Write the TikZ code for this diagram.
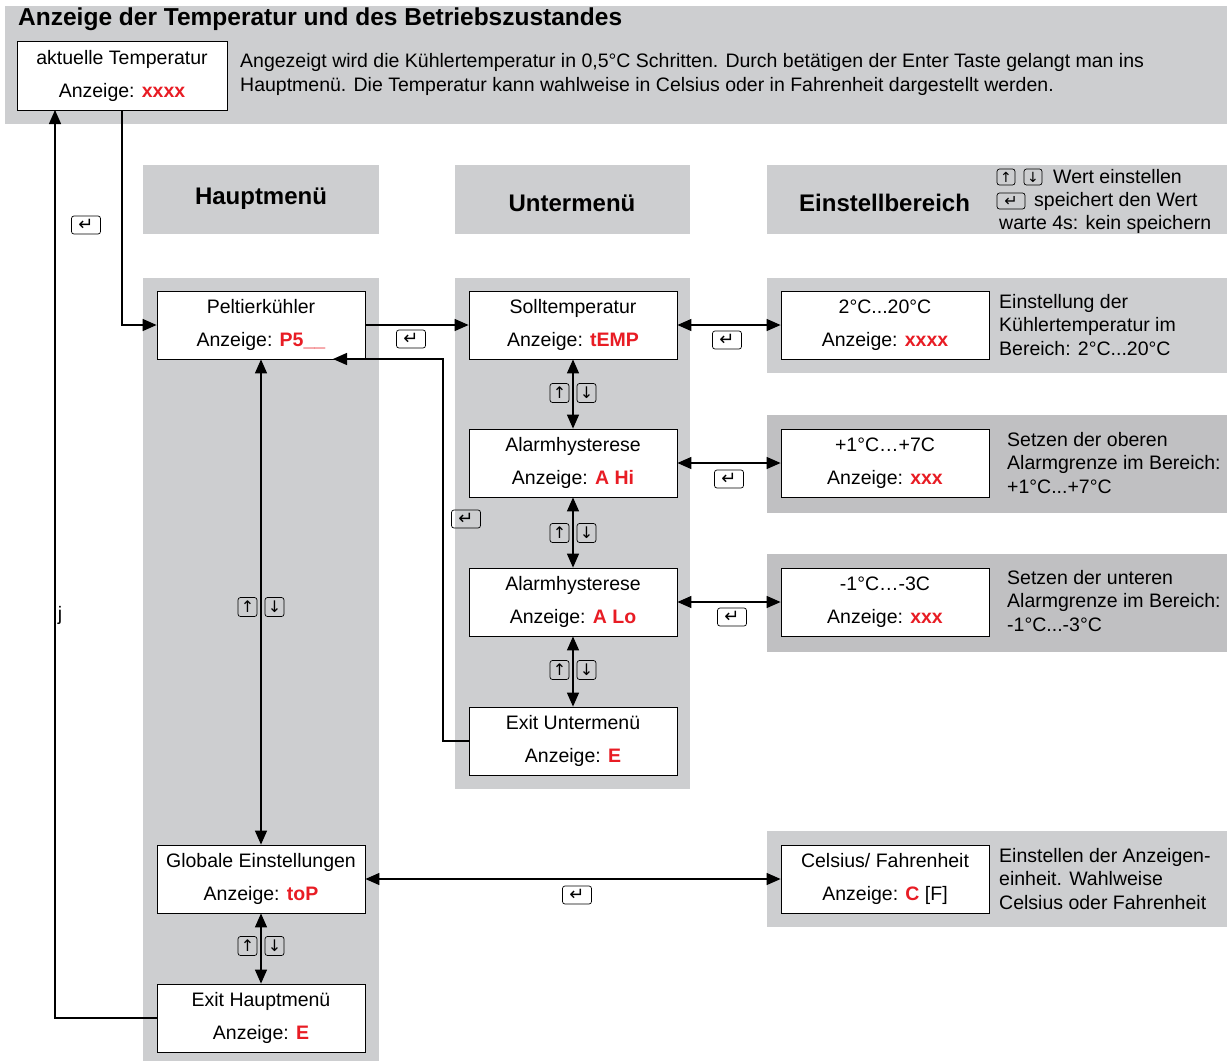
\documentclass[tikz,border=0pt]{standalone}
\usepackage{fontspec}
\setmainfont{Liberation Sans}
\newfontfamily\symfont{DejaVu Sans}
\usetikzlibrary{arrows.meta}
\definecolor{bgA}{RGB}{205,206,208}
\definecolor{bgB}{RGB}{192,192,194}
\definecolor{vred}{RGB}{232,28,36}
\newcommand\rv[1]{\textcolor{vred}{\textbf{#1}}}
\begin{document}
\begin{tikzpicture}[x=1pt,y=-1pt,
 box/.style={draw, fill=white, line width=0.8pt, minimum width=208pt, minimum height=68pt, inner sep=0pt, align=center, font=\fontsize{19.5}{33}\selectfont},
 ukey/.style={draw, rounded corners=2.5pt, line width=0.7pt, minimum width=19pt, minimum height=19pt, inner sep=0pt, font=\symfont\fontsize{16}{16}\selectfont},
 ekey/.style={ukey, minimum width=29pt, minimum height=18pt, font=\symfont\fontsize{18}{18}\selectfont},
 skey/.style={ukey, minimum width=18pt, minimum height=16pt, font=\symfont\fontsize{14}{14}\selectfont},
 sekey/.style={skey, minimum width=28pt, font=\symfont\fontsize{16}{16}\selectfont},
 txt/.style={anchor=west, inner sep=0pt, align=left, font=\fontsize{19.5}{23.5}\selectfont},
 hdr/.style={inner sep=0pt, font=\bfseries\fontsize{24}{24}\selectfont},
 arr/.style={line width=1.3pt, -{Triangle[length=14pt,width=12pt]}},
 darr/.style={line width=1.3pt, {Triangle[length=14pt,width=12pt]}-{Triangle[length=14pt,width=12pt]}},
]
\useasboundingbox (0,0) rectangle (1227,1061);
\fill[white] (0,0) rectangle (1227,1061);
% backgrounds
\fill[bgA] (5,6) rectangle (1227,124);
\fill[bgA] (143,165) rectangle (379,234);
\fill[bgA] (455,165) rectangle (690,234);
\fill[bgA] (767,165) rectangle (1227,234);
\fill[bgA] (143,278) rectangle (379,1061);
\fill[bgA] (455,278) rectangle (690,789);
\fill[bgA] (767,278) rectangle (1227,373);
\fill[bgB] (767,415) rectangle (1227,513);
\fill[bgB] (767,554) rectangle (1227,652);
\fill[bgA] (767,831) rectangle (1227,927);
% title and intro
\node[hdr, anchor=west, font=\bfseries\fontsize{24.5}{24.5}\selectfont] (title) at (18,19) {Anzeige der Temperatur und des Betriebszustandes};
\node[box, minimum width=210pt, minimum height=69pt] (akt) at (122,75.5) {aktuelle Temperatur\\Anzeige: \rv{xxxx}};
\node[txt, font=\fontsize{19.5}{24}\selectfont] (intro) at (240,74) {Angezeigt wird die Kühlertemperatur in 0,5°C Schritten. Durch betätigen der Enter Taste gelangt man ins\\Hauptmenü. Die Temperatur kann wahlweise in Celsius oder in Fahrenheit dargestellt werden.};
% headers
\node[hdr] (hh) at (261,199) {Hauptmenü};
\node[hdr] (hu) at (572,203) {Untermenü};
\node[hdr, anchor=west] (he) at (799,203) {Einstellbereich};
\node[skey] (lk1) at (1006,177) {↑};
\node[skey] (lk2) at (1033,177) {↓};
\node[txt] (lt1) at (1053,177) {Wert einstellen};
\node[sekey] (lk3) at (1011,201) {↵};
\node[txt] (lt2) at (1034,201) {speichert den Wert};
\node[txt] (lt3) at (999,224) {warte 4s: kein speichern};
% boxes
\node[box] (pelt) at (261,325) {Peltierkühler\\Anzeige: \rv{P5\_\_}};
\node[box] (soll) at (573,325) {Solltemperatur\\Anzeige: \rv{tEMP}};
\node[box] (r1) at (885,325) {2°C...20°C\\Anzeige: \rv{xxxx}};
\node[box] (ahi) at (573,463) {Alarmhysterese\\Anzeige: \rv{A Hi}};
\node[box] (r2) at (885,463) {+1°C…+7C\\Anzeige: \rv{xxx}};
\node[box] (alo) at (573,602) {Alarmhysterese\\Anzeige: \rv{A Lo}};
\node[box] (r3) at (885,602) {-1°C…-3C\\Anzeige: \rv{xxx}};
\node[box] (exu) at (573,741) {Exit Untermenü\\Anzeige: \rv{E}};
\node[box] (glob) at (261,879) {Globale Einstellungen\\Anzeige: \rv{toP}};
\node[box] (cel) at (885,879) {Celsius/ Fahrenheit\\Anzeige: \rv{C} [F]};
\node[box] (exh) at (261,1018) {Exit Hauptmenü\\Anzeige: \rv{E}};
% right texts
\node[txt] (t1) at (999,325) {Einstellung der\\Kühlertemperatur im\\Bereich: 2°C...20°C};
\node[txt] (t2) at (1007,463) {Setzen der oberen\\Alarmgrenze im Bereich:\\+1°C...+7°C};
\node[txt] (t3) at (1007,601) {Setzen der unteren\\Alarmgrenze im Bereich:\\-1°C...-3°C};
\node[txt] (t4) at (999,879) {Einstellen der Anzeigen-\\einheit. Wahlweise\\Celsius oder Fahrenheit};
% coordinates
\coordinate (rt) at (55,110);
\coordinate (kn) at (443,359);
\coordinate (pin) at (333,359);
% connectors
\draw[arr] (akt.south) |- (pelt.west);
\draw[arr] (exh.west) -| (rt);
\draw[arr] (pelt.east) -- (soll.west);
\draw[darr] (soll.east) -- (r1.west);
\draw[darr] (ahi.east) -- (r2.west);
\draw[darr] (alo.east) -- (r3.west);
\draw[darr] (glob.east) -- (cel.west);
\draw[darr] (soll.south) -- (ahi.north);
\draw[darr] (ahi.south) -- (alo.north);
\draw[darr] (alo.south) -- (exu.north);
\draw[darr] (pelt.south) -- (glob.north);
\draw[darr] (glob.south) -- (exh.north);
\draw[arr] (exu.west) -| (kn) -- (pin);
% key labels
\node[ekey] (e0) at (86,225) {↵};
\node[ekey] (e1) at (411,339) {↵};
\node[ekey] (e2) at (727,340) {↵};
\node[ekey] (e3) at (729,479) {↵};
\node[ekey] (e4) at (732,617) {↵};
\node[ekey] (e5) at (577,895) {↵};
\node[ekey] (e6) at (466,519) {↵};
\node[ukey] (u1) at (559.5,393) {↑};
\node[ukey] (d1) at (586.5,393) {↓};
\node[ukey] (u2) at (559.5,533) {↑};
\node[ukey] (d2) at (586.5,533) {↓};
\node[ukey] (u3) at (559.5,670) {↑};
\node[ukey] (d3) at (586.5,670) {↓};
\node[ukey] (u4) at (247.5,607) {↑};
\node[ukey] (d4) at (274.5,607) {↓};
\node[ukey] (u5) at (247.5,946) {↑};
\node[ukey] (d5) at (274.5,946) {↓};
\node[inner sep=0pt, font=\fontsize{19.5}{19.5}\selectfont] (jl) at (60,615) {j};
\end{tikzpicture}
\end{document}
